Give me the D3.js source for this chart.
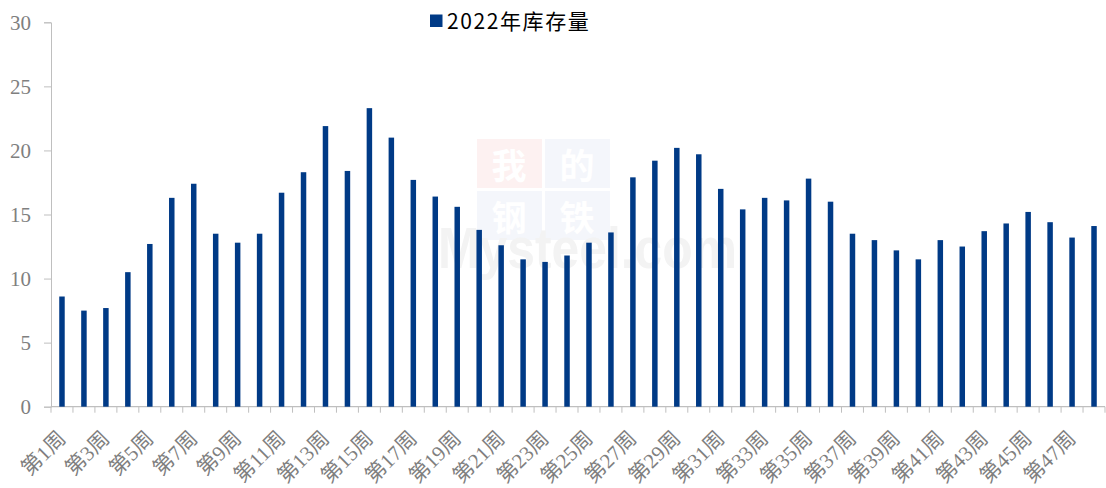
<!DOCTYPE html>
<html>
<head>
<meta charset="utf-8">
<script src="https://cdn.jsdelivr.net/npm/d3@7"></script>
<style>
  body { margin: 0; background: #fff; }
  .axis path, .axis line { stroke: #bfbfbf; }
  .axis text { fill: #7f7f7f; font-family: "Liberation Serif", "Noto Sans CJK SC", serif; }
</style>
</head>
<body>
<svg id="chart" width="1106" height="488"></svg>
<script>
// week labels and 2022 stock values
var weeks = [];
for (var i = 1; i <= 48; i++) weeks.push("第" + i + "周");
var stock2022 = [8.6, 7.5, 7.7, 10.5, 12.7, 16.3, 17.4, 13.5, 12.8, 13.5,
                 16.7, 18.3, 21.9, 18.4, 23.3, 21.0, 17.7, 16.4, 15.6, 13.8,
                 12.6, 11.5, 11.3, 11.8, 12.8, 13.6, 17.9, 19.2, 20.2, 19.7,
                 17.0, 15.4, 16.3, 16.1, 17.8, 16.0, 13.5, 13.0, 12.2, 11.5,
                 13.0, 12.5, 13.7, 14.3, 15.2, 14.4, 13.2, 14.1];
var yTicks = [0, 5, 10, 15, 20, 25, 30];
var seriesName = "2022年库存量";

var svg = d3.select("#chart");
var plotLeft = 51, plotRight = 1105, plotTop = 22.3, plotBottom = 406.7;
var barColor = "#003a86";

var x = d3.scaleBand().domain(weeks).range([plotLeft, plotRight])
    .paddingInner(0.75).paddingOuter(0.375);
var y = d3.scaleLinear().domain([0, 30]).range([plotBottom, plotTop]);

// watermark (faint logo behind the bars)
var wmBoxes = [
  {ch: "我", x: 477, y: 139, fill: "#fdf1f1"},
  {ch: "的", x: 545, y: 139, fill: "#f4f6fb"},
  {ch: "钢", x: 477, y: 191, fill: "#f4f6fb"},
  {ch: "铁", x: 545, y: 191, fill: "#f4f6fb"}
];
var wm = svg.append("g");
wm.selectAll("rect").data(wmBoxes).enter().append("rect")
    .attr("x", function(d) { return d.x; }).attr("y", function(d) { return d.y; })
    .attr("width", 65).attr("height", 49)
    .attr("fill", function(d) { return d.fill; });
wm.selectAll("text").data(wmBoxes).enter().append("text")
    .attr("x", function(d) { return d.x + 32; }).attr("y", function(d) { return d.y + 40; })
    .attr("text-anchor", "middle")
    .attr("font-family", "Noto Sans CJK SC, sans-serif").attr("font-weight", "bold")
    .attr("font-size", 35).attr("fill", "#ffffff")
    .text(function(d) { return d.ch; });
wm.append("text").attr("x", 438).attr("y", 268)
    .attr("font-family", "Liberation Sans, Arial, sans-serif").attr("font-size", 58)
    .attr("font-weight", "bold")
    .attr("textLength", 299).attr("lengthAdjust", "spacingAndGlyphs")
    .attr("fill", "#f3f3f3").text("Mysteel.com");

// y axis
svg.append("g").attr("class", "axis")
    .attr("transform", "translate(" + plotLeft + ",0)")
    .call(d3.axisLeft(y).tickValues(yTicks).tickSize(7).tickPadding(13))
    .call(function(g) { g.selectAll("text").attr("font-size", 21); });

// x axis line
svg.append("line").attr("x1", plotLeft).attr("x2", plotRight)
    .attr("y1", plotBottom).attr("y2", plotBottom)
    .attr("stroke", "#bfbfbf").attr("stroke-width", 1.3);

// tick marks at category boundaries
var bounds = d3.range(weeks.length + 1).map(function(i) { return plotLeft + i * x.step(); });
svg.selectAll(".xtick").data(bounds).enter().append("line")
    .attr("class", "xtick")
    .attr("x1", function(d) { return d; }).attr("x2", function(d) { return d; })
    .attr("y1", plotBottom).attr("y2", plotBottom + 6)
    .attr("stroke", "#bfbfbf");

// bars
svg.selectAll(".bar").data(stock2022).enter().append("rect")
    .attr("class", "bar")
    .attr("x", function(d, i) { return x(weeks[i]); })
    .attr("y", function(d) { return y(d); })
    .attr("width", x.bandwidth())
    .attr("height", function(d) { return plotBottom - y(d); })
    .attr("fill", barColor);

// x labels, every other week
svg.selectAll(".xlab").data(weeks.filter(function(d, i) { return i % 2 == 0; }))
  .enter().append("text")
    .attr("class", "xlab")
    .attr("transform", function(d) {
      return "translate(" + (x(d) + x.bandwidth() / 2 + 5) + "," + (plotBottom + 33) + ") rotate(-45)";
    })
    .attr("text-anchor", "end")
    .attr("font-family", "Liberation Serif, Noto Sans CJK SC, serif")
    .attr("font-size", 21)
    .attr("fill", "#7f7f7f")
    .text(function(d) { return d; });

// legend
var lg = svg.append("g").attr("transform", "translate(430,14.5)");
lg.append("rect").attr("width", 12.5).attr("height", 12.5).attr("fill", barColor);
lg.append("text").attr("x", 17).attr("y", 14)
    .attr("font-family", "Noto Sans CJK SC, sans-serif")
    .attr("font-size", 21).attr("letter-spacing", 1.6).attr("fill", "#000")
    .text(seriesName);
</script>
</body>
</html>
